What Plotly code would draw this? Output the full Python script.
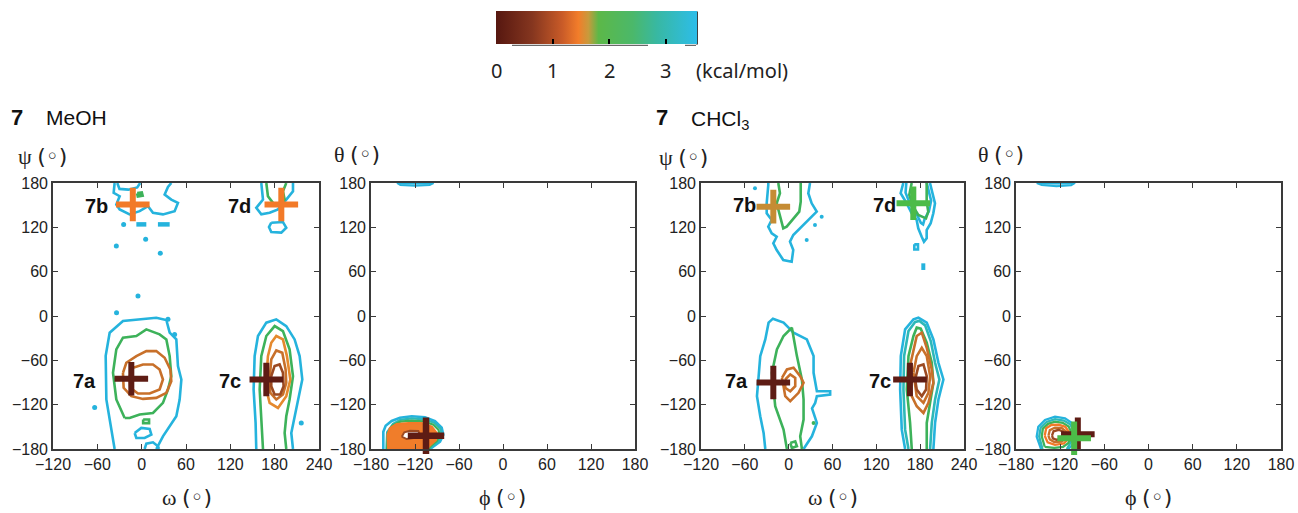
import plotly.graph_objects as go

W, H = 1298, 513

# ---------------- data (degrees) ----------------
# Colour scale
CBAR_TICKS = [0, 1, 2, 3]
CBAR_MIN, CBAR_MAX = 0, 3.55
CBAR_UNIT = "(kcal/mol)"

# Axis ticks
OMEGA_TICKS = [-120, -60, 0, 60, 120, 180, 240]
ANGLE_TICKS = [-180, -120, -60, 0, 60, 120, 180]

# ---- Panel 1: 7 MeOH, omega / psi ----
p1_a_cyan = [(-36.6, -180), (-41, -153.8), (-47.8, -113), (-48.7, -54), (-43.3, -22.6), (-25.3, -6.8),
             (-2.7, -4.5), (19.8, -2.3), (33.4, -5.4), (37.9, -22.6), (46.9, -31.7), (49.1, -67.8),
             (53.7, -86), (51.4, -113), (46.9, -135.7), (37.9, -149), (28.8, -162.8), (19.8, -180)]
p1_a_cyan_in1 = [(-9.5, -158.3), (-0.5, -151.5), (10.8, -152.9), (13.1, -160.6), (4, -165.1), (-7.2, -165.1), (-9.5, -158.3)]
p1_a_cyan_in2 = [(4, -180), (6.3, -172.8), (15.3, -171), (22.1, -176.4), (23.4, -180)]
p1_a_green = [(-23, -138), (-34.3, -113), (-38.8, -76.9), (-34.3, -45.2), (-25.3, -29.4), (-7.2, -27.1),
              (6.3, -18.1), (24.3, -24.9), (33.4, -31.7), (37.9, -54.3), (40.1, -81.4), (35.6, -99.5),
              (28.8, -117.6), (15.3, -131.2), (-2.7, -133.4), (-16.3, -138), (-23, -138)]
p1_a_green_isl = [(2, -140), (10, -140), (10, -145), (2, -145), (2, -140)]
p1_a_orange = [(-25.3, -76.9), (-20.8, -63.3), (-7.2, -54.3), (6.3, -47.5), (19.8, -47.5), (31.1, -56.5),
               (38.8, -72.4), (40.1, -88.2), (33.4, -104), (19.8, -110.8), (1.8, -112.2), (-14, -108.5),
               (-24.4, -97.2), (-25.3, -76.9)]
p1_a_brown = [(-16.3, -81.4), (-11.7, -70.1), (1.8, -65.6), (15.3, -65.6), (24.3, -72.4), (28.8, -85.9),
              (24.3, -99.5), (10.8, -104.9), (-5, -104.9), (-15.4, -97.2), (-16.3, -81.4)]
p1_c_cyan = [(155.1, -180), (154.2, -144.7), (151.5, -99.5), (152.9, -54.3), (157.4, -27.1), (168.7, -9),
             (182.2, -4.5), (195.7, -13.6), (207, -31.7), (213.8, -54.3), (217.4, -85.9), (211.5, -113),
             (207, -135.7), (202.5, -158.3), (204.8, -180)]
p1_c_green = [(164.2, -180), (161.9, -144.7), (159.7, -99.5), (161.9, -54.3), (168.7, -27.1), (180, -13.6),
              (191.2, -20.4), (200.2, -45.2), (204.8, -81.4), (200.2, -113), (195.7, -135.7), (193.5, -158.3),
              (195.7, -180)]
p1_c_orange = [(168.7, -85.9), (170.9, -54.3), (175.4, -36.2), (182.2, -27.1), (191.2, -31.7), (196.6, -54.3),
               (201.2, -85.9), (195.7, -108.5), (184.5, -124.4), (173.2, -117.6), (168.7, -99.5), (168.7, -85.9)]
p1_c_orange2 = [(173.2, -85.9), (175.4, -58.8), (182.2, -46.6), (190.3, -49.8), (194.8, -72.4), (195.7, -90.5),
                (191.2, -106.3), (182.2, -113), (174.1, -104), (173.2, -85.9)]
p1_c_brown = [(175.4, -81.4), (179.9, -67.8), (186.7, -65.6), (191.2, -76.9), (192.1, -95), (187.6, -106.3),
              (179.9, -106.3), (175.4, -95), (175.4, -81.4)]
p1_b_cyan = [(-36.6, 180), (-37.9, 166.6), (-29.8, 162.1), (-34.3, 150.9), (-29.8, 144.2), (-16.3, 137.5),
             (-2.7, 141.9), (8.6, 148.7), (15.3, 139.7), (28.8, 137.5), (44.6, 141.9), (49.1, 153.1),
             (40.1, 157.6), (31.1, 164.3), (35.6, 174.6), (40.1, 180)]
p1_b_cyan_top = [(-33, 180), (-30, 172), (-18, 171), (-6, 174), (-2, 180)]
p1_b_green = [(-6, 166), (0, 167), (1, 163), (-5, 162), (-6, 166)]
p1_b_dash1 = [(-7.2, 124), (6.3, 124)]
p1_b_dash2 = [(22, 124), (37.9, 124)]
p1_d_cyan = [(161.9, 180), (164.2, 157.6), (155.1, 146.4), (161.9, 137.5), (173.2, 139.7), (184.5, 144.2),
             (195.7, 157.6), (204.8, 168.8), (204.8, 180)]
p1_d_cyan_loop = [(175.4, 126.3), (191.2, 127.2), (195.7, 119.5), (189, 112.8), (175.4, 113.7), (172.3, 120.4), (175.4, 126.3)]
p1_d_green = [(168.7, 180), (170.9, 162.1), (177.7, 153.1), (186.7, 148.7), (193.5, 157.6), (191.2, 168.8), (195.7, 180)]
p1_dots_x = [-5, -34, 35.6, 44.6, -63.6, 216, -24.4, 5.4, -34.3, 25.2]
p1_dots_y = [27, 4.5, -4.5, -25, -124, -144.7, 124, 103.9, 94.9, 85]
p1_min_x = [-14, -12, 168.7, 189]
p1_min_y = [-85, 151, -86, 151]
p1_min_names = ["7a", "7b", "7c", "7d"]
p1_label_x = [-77, -61.4, 119, 132.6]
p1_label_y = [-88, 148.7, -88, 148.7]

# ---- Panel 2: 7 MeOH, phi / theta ----
p2_cyan = [(-163.2, -180), (-163.2, -156.6), (-160, -148.5), (-151.8, -142.1), (-140.5, -137.6), (-124.5, -135.7),
           (-106.4, -137.1), (-92.7, -142.1), (-83.6, -151.2), (-81.4, -161), (-85.9, -170.1), (-95, -176.9), (-99.5, -180)]
p2_teal = [(-159, -180), (-158, -157), (-150, -146), (-140, -140.5), (-124.5, -138.5), (-107, -139.8), (-94, -144.5),
           (-85.5, -152), (-83.5, -161), (-88, -169.5), (-96.5, -176), (-100.5, -180)]
p2_green = [(-158, -180), (-157, -158), (-151, -148.5), (-140, -143), (-125, -141.5), (-108, -142.5), (-95, -147),
            (-88, -154), (-86.5, -161.5), (-90, -169), (-98, -175.5), (-102, -180)]
p2_orange = [(-156.4, -180), (-157.3, -161), (-154.1, -152), (-145, -146.6), (-129.1, -145.2), (-110.9, -145.2),
             (-97.2, -149.8), (-90.4, -158.8), (-91.8, -167.8), (-99.5, -174.6), (-104, -180), (-156.4, -180)]
p2_hole = [(-138.1, -163.3), (-134.6, -157.4), (-126.8, -155.2), (-115.5, -155.6), (-113.2, -161), (-120, -164.7),
           (-131.3, -166.5), (-138.1, -163.3)]
p2_top = [(-144.6, 180), (-140, 177.3), (-120, 176.4), (-100, 177.3), (-94.7, 180), (-144.6, 180)]
p2_min_x = [-105]
p2_min_y = [-162]

# ---- Panel 3: 7 CHCl3, omega / psi ----
p3_a_cyan = [(-32, -180), (-34.3, -158.3), (-38.9, -135.7), (-43.4, -108.5), (-41.1, -81.4), (-38.9, -54.3),
             (-32, -31.7), (-27.5, -9), (-21.5, -3.6), (-13.8, -6.8), (-7, -9), (6.7, -22.6), (24.9, -31.7),
             (34.1, -54.3), (34.1, -76.9), (38.6, -101.8), (56.8, -101.8), (56.8, -106.3), (38.6, -108.5),
             (36.3, -117.6), (32, -125), (38.6, -144.7), (31.8, -162.8), (20.4, -180)]
p3_a_green = [(-2.4, -180), (-7, -153.8), (-18.4, -122.1), (-22.9, -76.9), (-16.1, -45.2), (-7, -27.1), (4.4, -15.8),
              (11.3, -54.3), (18.1, -85.9), (20.4, -113), (20.4, -140.2), (15.8, -162.8), (18.1, -180)]
p3_a_green_isl = [(2.2, -171.9), (9, -169.6), (11.3, -176.3), (4.4, -178.6), (2.2, -171.9)]
p3_a_orange = [(-9.2, -83.7), (-2.4, -72.4), (6.7, -70.1), (15.8, -81.4), (20.4, -90.5), (13.5, -104), (2.2, -115.3),
               (-4.7, -108.5), (-7, -95), (-9.2, -83.7)]
p3_a_brown = [(-4.7, -85.9), (2.2, -79.1), (9, -83.7), (9, -95), (2.2, -101.8), (-4.7, -97.2), (-4.7, -85.9)]
p3_c_cyan = [(159.4, -180), (154.8, -153.8), (152.6, -99.5), (153.5, -54.3), (159.4, -18.1), (170.8, -4.5),
             (177.6, -2.3), (189, -9), (198.1, -31.7), (205, -63.3), (211.8, -85.9), (205, -113), (200.4, -144.7),
             (198.1, -180)]
p3_c_teal = [(164, -180), (159.4, -153.8), (157.1, -99.5), (158, -54.3), (164, -20.4), (173.1, -8.1), (179, -6.8),
             (186.8, -12.7), (194.5, -33.9), (200.4, -63.3), (206.3, -85.9), (200.4, -113), (195.9, -144.7), (193.6, -180)]
p3_c_green = [(168.5, -180), (166.2, -144.7), (161.7, -99.5), (164, -54.3), (170.8, -27.1), (175.3, -15.8),
              (180.8, -17.2), (189, -36.2), (195.9, -63.3), (198.1, -90.5), (193.6, -117.6), (189, -144.7), (189, -180)]
p3_c_orange = [(164, -76.9), (170.8, -45.2), (175.3, -27.1), (182.2, -22.6), (189, -43), (195.9, -72.4), (198.1, -90.5),
               (191.3, -117.6), (184.5, -131.2), (175.3, -122.1), (168.5, -108.5), (164, -76.9)]
p3_c_orange2 = [(170.8, -76.9), (175.3, -54.3), (182.2, -43), (189, -54.3), (193.6, -81.4), (191.3, -104),
                (184.5, -117.6), (175.3, -108.5), (170.8, -76.9)]
p3_c_brown = [(173.1, -85.9), (177.6, -67.8), (184.5, -65.6), (189, -81.4), (188.1, -99.5), (182.2, -108.5),
              (175.3, -99.5), (173.1, -85.9)]
p3_b_cyan = [(-27.9, 180), (-27.9, 177.3), (-30.1, 152.5), (-30.1, 139), (-23.2, 130), (-27.9, 120.9), (-23.2, 111.9),
             (-16.4, 107.3), (-21, 98.4), (-16.4, 89.3), (-7.4, 75.8), (4.1, 73.5), (6.3, 89.3), (1.8, 100.6),
             (6.3, 109.6), (17.8, 120.9), (31.5, 134.4), (38.4, 141.2), (31.5, 152.5), (26.9, 166.1), (29.2, 180)]
p3_b_green = [(-14.2, 180), (-11.9, 166.1), (-16.4, 152.5), (-11.9, 134.4), (-7.4, 118.7), (-2.7, 120.9),
              (6.3, 132.2), (14.5, 141.2), (16.5, 154.7), (16.5, 180)]
p3_d_cyan = [(156.9, 180), (153.3, 166.1), (161.6, 152.5), (168.4, 139), (175.2, 130), (177.4, 118.7), (182.1, 107.3),
             (185.2, 100.6), (188.9, 105.2), (188.9, 116.4), (194.4, 125.5), (198, 139), (200.3, 152.5),
             (197.1, 166.1), (193.4, 180)]
p3_d_cyan_in = [(161, 180), (160, 167), (166, 152), (175, 138), (181, 126), (184, 124), (186, 131), (192, 142),
                (195, 156), (192, 170), (189, 180)]
p3_d_green = [(168.4, 180), (165.1, 163.8), (170.6, 147.9), (177.4, 136.7), (188, 132.2), (191.1, 141.2),
              (188.9, 154.7), (188.9, 180)]
p3_d_spot = [(172, 97), (177, 97), (177, 90), (172, 90), (172, 97)]
p3_d_dash = [(184.3, 71.3), (184.3, 62.3)]
p3_dots_x = [45.2, 36, 24.7, -46.1, 34.1]
p3_dots_y = [134.4, 123.2, 102.9, 172.8, -144.7]
p3_min_x = [-21, -21, 166, 170.6]
p3_min_y = [-90, 148, -86, 152.5]
p3_min_names = ["7a", "7b", "7c", "7d"]
p3_label_x = [-71.7, -59.8, 125.2, 131.8]
p3_label_y = [-88, 150, -88, 150]

# ---- Panel 4: 7 CHCl3, phi / theta ----
p4_cyan = [(-146, -180), (-151.9, -163.3), (-149.7, -149.8), (-140.6, -140.7), (-127, -136.3), (-113.4, -138.5),
           (-103.5, -145.2), (-98.9, -154.3), (-98.9, -165.5), (-103.5, -174.6), (-109, -180)]
p4_teal = [(-144, -180), (-148.5, -163), (-146.5, -151), (-138.5, -143.5), (-127, -139.5), (-115, -141.5),
           (-106, -147), (-102, -155), (-102, -165), (-106.5, -173), (-111, -180)]
p4_green = [(-141, -177), (-145, -163), (-143.5, -152.5), (-136.5, -146), (-127, -143), (-116.5, -144.5),
            (-108.5, -149.5), (-105.5, -156), (-105.5, -165), (-109, -172), (-116, -177), (-128, -178.5), (-141, -177)]
p4_orange = [(-141, -162), (-139, -152), (-132, -147.5), (-122, -147), (-113, -150), (-108, -157), (-109, -166),
             (-115, -172.5), (-127, -174.5), (-137, -171), (-141, -162)]
p4_orange2 = [(-136, -162), (-134, -154.5), (-127, -151), (-118, -151.5), (-112, -156.5), (-112, -165), (-118, -170),
              (-128, -170.5), (-134, -167), (-136, -162)]
p4_brown = [(-131, -161.5), (-129, -156), (-122, -154), (-116, -156.5), (-114.5, -162), (-118, -166.5),
            (-125, -167.5), (-130, -165.5), (-131, -161.5)]
p4_top = [(-151.9, 180), (-145, 177.3), (-125, 175.5), (-105, 177), (-99.8, 180), (-151.9, 180)]
p4_min_x = [-96, -101]
p4_min_y = [-160, -165.5]

# ---------------- styles ----------------
CYAN = "#25b3dd"
TEAL = "#2db8b8"
GREEN = "#3db25a"
ORANGE = "#e5892e"
DKORANGE = "#c8702a"
BROWN = "#9c4a22"
DKBROWN = "#5e1c14"
XORANGE = "#f27a28"
TAN = "#c58c34"
XGREEN = "#4cbb48"
LW = 2.6
TICKFONT = dict(family="Liberation Sans, Arial, sans-serif", size=16, color="#222")

fig = go.Figure()


def add_line(pts, color, ax, width=LW, fill=None, fillcolor=None):
    xs = [p[0] for p in pts]
    ys = [p[1] for p in pts]
    fig.add_trace(go.Scatter(
        x=xs, y=ys, mode="lines", xaxis="x" + ax, yaxis="y" + ax,
        line=dict(color=color, width=width, shape="linear"),
        fill=fill, fillcolor=fillcolor, hoverinfo="skip", showlegend=False))


def add_dots(xs, ys, color, ax, size=5):
    fig.add_trace(go.Scatter(
        x=xs, y=ys, mode="markers", xaxis="x" + ax, yaxis="y" + ax,
        marker=dict(color=color, size=size, line=dict(width=0)),
        hoverinfo="skip", showlegend=False))


def add_cross(xs, ys, colors, ax, size=24, width=6):
    fig.add_trace(go.Scatter(
        x=xs, y=ys, mode="markers", xaxis="x" + ax, yaxis="y" + ax, cliponaxis=False,
        marker=dict(symbol="cross-thin", size=size, color=colors,
                    line=dict(color=colors, width=width)),
        hoverinfo="skip", showlegend=False))


# Panel 1
for pts, c in [(p1_a_cyan, CYAN), (p1_a_cyan_in1, CYAN), (p1_a_cyan_in2, CYAN), (p1_a_green, GREEN),
               (p1_a_green_isl, GREEN), (p1_a_orange, DKORANGE), (p1_a_brown, DKORANGE),
               (p1_c_cyan, CYAN), (p1_c_green, GREEN), (p1_c_orange, ORANGE), (p1_c_orange2, DKORANGE),
               (p1_c_brown, BROWN), (p1_b_cyan, CYAN), (p1_b_cyan_top, CYAN), (p1_d_cyan, CYAN),
               (p1_d_cyan_loop, CYAN), (p1_d_green, GREEN)]:
    add_line(pts, c, "")
add_line(p1_b_green, GREEN, "", width=3, fill="toself", fillcolor=GREEN)
add_line(p1_b_dash1, CYAN, "", width=4.5)
add_line(p1_b_dash2, CYAN, "", width=4.5)
add_dots(p1_dots_x, p1_dots_y, CYAN, "")
add_cross(p1_min_x, p1_min_y, [DKBROWN, XORANGE, DKBROWN, XORANGE], "")

# Panel 2
add_line(p2_top, CYAN, "2", width=2, fill="toself", fillcolor="#7fd0ea")
add_line(p2_cyan, CYAN, "2")
add_line(p2_teal, TEAL, "2", width=2.2)
add_line(p2_green, GREEN, "2", width=2.2)
add_line(p2_orange, XORANGE, "2", width=2.5, fill="toself", fillcolor="#f07d2a")
add_line(p2_hole, BROWN, "2", width=2, fill="toself", fillcolor="#ffffff")
add_cross(p2_min_x, p2_min_y, [DKBROWN], "2", size=26, width=6.5)

# Panel 3
for pts, c in [(p3_a_cyan, CYAN), (p3_a_green, GREEN), (p3_a_green_isl, GREEN), (p3_a_orange, DKORANGE),
               (p3_a_brown, DKORANGE), (p3_c_cyan, CYAN), (p3_c_teal, TEAL), (p3_c_green, GREEN),
               (p3_c_orange, DKORANGE), (p3_c_orange2, DKORANGE), (p3_c_brown, BROWN),
               (p3_b_cyan, CYAN), (p3_b_green, GREEN), (p3_d_cyan, CYAN), (p3_d_cyan_in, CYAN),
               (p3_d_green, GREEN), (p3_d_spot, CYAN)]:
    add_line(pts, c, "3")
add_line(p3_d_dash, CYAN, "3", width=4)
add_dots(p3_dots_x[:4], p3_dots_y[:4], CYAN, "3", size=4)
add_dots(p3_dots_x[4:], p3_dots_y[4:], GREEN, "3", size=4)
add_cross(p3_min_x, p3_min_y, [DKBROWN, TAN, DKBROWN, XGREEN], "3")

# Panel 4
add_line(p4_top, CYAN, "4", width=2, fill="toself", fillcolor="#7fd0ea")
for pts, c in [(p4_cyan, CYAN), (p4_teal, TEAL), (p4_green, GREEN), (p4_orange, XORANGE),
               (p4_orange2, DKORANGE), (p4_brown, BROWN)]:
    add_line(pts, c, "4", width=2.3)
add_cross(p4_min_x, p4_min_y, [DKBROWN, XGREEN], "4", size=24, width=6)

# colour bar (via coloraxis)
fig.add_trace(go.Scatter(x=[None], y=[None], mode="markers",
                         marker=dict(color=[CBAR_MIN], coloraxis="coloraxis"),
                         hoverinfo="skip", showlegend=False))

# ---------------- layout ----------------
def px_x(p):
    return p / W


def px_y(p):
    return 1 - p / H


TOP, BOT = 183, 449
panels = {"": (53, 319, OMEGA_TICKS), "2": (371, 635, ANGLE_TICKS),
          "3": (701, 964, OMEGA_TICKS), "4": (1016, 1281, ANGLE_TICKS)}
layout_axes = {}
for ax, (l, r, xt) in panels.items():
    common = dict(showline=True, linecolor="#3a3a3a", linewidth=1.6, mirror="ticks", ticks="inside",
                  ticklen=5, tickwidth=1.2, tickcolor="#3a3a3a", showgrid=False, zeroline=False,
                  tickfont=TICKFONT, fixedrange=True, automargin=False)
    layout_axes["xaxis" + ax] = dict(domain=[px_x(l), px_x(r)], range=[xt[0], xt[-1]], tickvals=xt,
                                     anchor="y" + ax, **common)
    layout_axes["yaxis" + ax] = dict(domain=[px_y(BOT), px_y(TOP)], range=[-180, 180], tickvals=ANGLE_TICKS,
                                     anchor="x" + ax, **common)

CB_L, CB_R, CB_T, CB_B = 496, 697, 11.5, 44.5
CBFONT = dict(family="Noto Sans, Open Sans, sans-serif", size=20, color="#222")
fig.update_layout(
    width=W, height=H, margin=dict(l=0, r=0, t=0, b=0, pad=0, autoexpand=False),
    paper_bgcolor="white", plot_bgcolor="white", showlegend=False,
    coloraxis=dict(
        cmin=CBAR_MIN, cmax=CBAR_MAX,
        colorscale=[[0, "#561710"], [0.18, "#85361f"], [0.33, "#c95b28"], [0.41, "#f27d2a"],
                    [0.46, "#c89a3c"], [0.51, "#5cb848"], [0.68, "#4bb86a"], [0.8, "#38b8a2"],
                    [1.0, "#2dbde9"]],
        colorbar=dict(orientation="h", x=px_x(CB_L), xanchor="left", len=(CB_R - CB_L) / W, lenmode="fraction",
                      y=px_y(CB_T), yanchor="top", thickness=CB_B - CB_T, thicknessmode="pixels",
                      outlinewidth=0, ticks="inside", ticklen=5, tickwidth=2.2, tickcolor="black",
                      tickvals=CBAR_TICKS[1:], showticklabels=False, xpad=0, ypad=0)),
    **layout_axes,
)

fig.add_shape(type="line", xref="paper", yref="paper", x0=px_x(CB_R), x1=px_x(CB_R), y0=px_y(CB_T), y1=px_y(CB_B),
              line=dict(color="black", width=1.5))
fig.add_shape(type="line", xref="paper", yref="paper", x0=px_x(512), x1=px_x(648), y0=px_y(CB_B + 0.8),
              y1=px_y(CB_B + 0.8), line=dict(color="#444", width=1))
fig.add_shape(type="line", xref="paper", yref="paper", x0=px_x(685), x1=px_x(696), y0=px_y(CB_B + 0.8),
              y1=px_y(CB_B + 0.8), line=dict(color="#444", width=1))

ann = []
# colour bar tick labels and unit
for v in CBAR_TICKS:
    xp = CB_L + (v - CBAR_MIN) / (CBAR_MAX - CBAR_MIN) * (CB_R - CB_L)
    ann.append(dict(x=px_x(xp), y=px_y(70), xref="paper", yref="paper", xanchor="center", yanchor="middle",
                    text=str(v), showarrow=False, font=CBFONT))
ann.append(dict(x=px_x(694), y=px_y(70), xref="paper", yref="paper", xanchor="left", yanchor="middle",
                text=CBAR_UNIT, showarrow=False, font=CBFONT))
# titles
TFONT = dict(family="Liberation Sans, Arial, sans-serif", size=21, color="#111")
ann.append(dict(x=px_x(9), y=px_y(117), xref="paper", yref="paper", xanchor="left", yanchor="middle",
                text="<b>7</b>", showarrow=False, font=dict(TFONT, size=22)))
ann.append(dict(x=px_x(44), y=px_y(117), xref="paper", yref="paper", xanchor="left", yanchor="middle",
                text="MeOH", showarrow=False, font=TFONT))
ann.append(dict(x=px_x(654), y=px_y(117), xref="paper", yref="paper", xanchor="left", yanchor="middle",
                text="<b>7</b>", showarrow=False, font=dict(TFONT, size=22)))
ann.append(dict(x=px_x(689), y=px_y(120), xref="paper", yref="paper", xanchor="left", yanchor="middle",
                text="CHCl<sub>3</sub>", showarrow=False, font=TFONT))


def axis_title(greek, xpx, ypx, anchor):
    return dict(x=px_x(xpx), y=px_y(ypx), xref="paper", yref="paper", xanchor=anchor, yanchor="middle",
                showarrow=False,
                text=('<span style="font-family:Liberation Serif, serif">' + greek + '</span> '
                      '<span style="font-family:DejaVu Sans, sans-serif">(\u25e6)</span>'),
                font=dict(family="Liberation Serif, serif", size=22, color="#222"))


ann.append(axis_title("\u03c8", 16, 156, "left"))
ann.append(axis_title("\u03b8", 332, 154, "left"))
ann.append(axis_title("\u03c8", 657, 157, "left"))
ann.append(axis_title("\u03b8", 976, 154, "left"))
ann.append(axis_title("\u03c9", 187, 497, "center"))
ann.append(axis_title("\u03d5", 502, 497, "center"))
ann.append(axis_title("\u03c9", 833, 497, "center"))
ann.append(axis_title("\u03d5", 1148, 497, "center"))

LFONT = dict(family="Liberation Sans, Arial, sans-serif", size=20, color="#111")
for nm, lx, ly in zip(p1_min_names, p1_label_x, p1_label_y):
    ann.append(dict(x=lx, y=ly, xref="x", yref="y", text="<b>" + nm + "</b>", showarrow=False, font=LFONT))
for nm, lx, ly in zip(p3_min_names, p3_label_x, p3_label_y):
    ann.append(dict(x=lx, y=ly, xref="x3", yref="y3", text="<b>" + nm + "</b>", showarrow=False, font=LFONT))

fig.update_layout(annotations=ann)

fig.write_html("out.html", config={"displayModeBar": False},
               post_script="document.body.style.margin='0px';document.body.style.overflow='hidden';")
